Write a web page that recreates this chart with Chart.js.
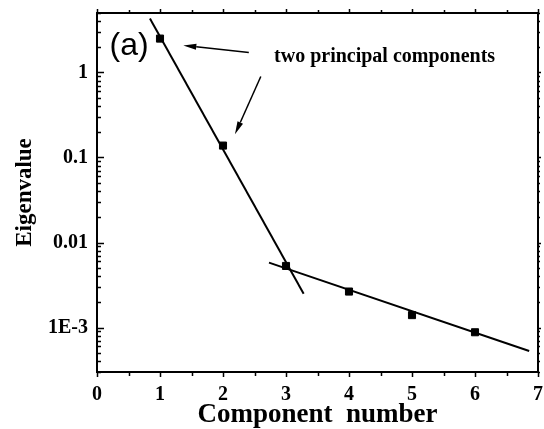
<!DOCTYPE html>
<html lang="en">
<head>
  <meta charset="UTF-8">
  <title>Eigenvalue vs component number</title>
  <script src="https://cdn.jsdelivr.net/npm/chart.js"></script>
  <style>
    html, body { margin: 0; padding: 0; background: #fff; }
    canvas { display: block; }
  </style>
</head>
<body>
  <canvas id="eigChart" width="544" height="429"></canvas>

  <script>
    // measured eigenvalues per component
    const components = [1, 2, 3, 4, 5, 6];
    const eigenvalues = [2.5, 0.138, 0.0053, 0.00265, 0.0014, 0.00088];

    // two straight fits (log scale), given by their end points
    const steepFitX = [0.84, 3.28];
    const steepFitY = [4.3, 0.0025];
    const tailFitX = [2.73, 6.86];
    const tailFitY = [0.0058, 0.00053];

    // axes
    const xMin = 0, xMax = 7;
    const yMin = 3e-4, yMax = 5;
    const xTickValues = [0, 1, 2, 3, 4, 5, 6, 7];
    const yTickValues = [1, 0.1, 0.01, 0.001];
    const yTickLabels = ['1', '0.1', '0.01', '1E-3'];

    // annotation: arrows [x0, y0, x1, y1] in data units, tip at the end
    const arrows = [
      [2.41, 1.72, 1.37, 2.08],
      [2.60, 0.897, 2.19, 0.187]
    ];
    const noteText = 'two principal components';
    const noteAt = [2.81, 1.54];
    const panelText = '(a)';
    const panelAt = [0.2, 2.02];

    const serif = '"Liberation Serif", "Times New Roman", serif';

    const toPts = (xs, ys) => xs.map((x, i) => ({ x: x, y: ys[i] }));

    // frame, ticks and the text annotations
    const decorPlugin = {
      id: 'decor',
      afterDraw(chart) {
        const { ctx, chartArea: a, scales } = chart;
        const sx = scales.x, sy = scales.y;
        ctx.save();
        ctx.strokeStyle = '#000';
        ctx.lineWidth = 2;
        ctx.strokeRect(a.left, a.top, a.right - a.left, a.bottom - a.top);

        ctx.lineWidth = 1.5;
        ctx.beginPath();
        for (let v = xMin; v <= xMax + 1e-9; v += 0.5) {
          const px = Math.round(sx.getPixelForValue(v)) + 0.5;
          const major = Number.isInteger(v);
          ctx.moveTo(px, a.bottom);
          ctx.lineTo(px, a.bottom + (major ? 5 : 4));
          ctx.moveTo(px, a.top);
          ctx.lineTo(px, a.top - (major ? 4 : 3));
        }
        for (let d = -4; d <= 0; d++) {
          for (let m = 1; m <= 9; m++) {
            const v = m * Math.pow(10, d);
            if (v < yMin || v > yMax) continue;
            const py = Math.round(sy.getPixelForValue(v)) + 0.5;
            const major = m === 1;
            ctx.moveTo(a.left, py);
            ctx.lineTo(a.left + (major ? 7 : 4), py);
            ctx.moveTo(a.right, py);
            ctx.lineTo(a.right + (major ? 3 : 2), py);
          }
        }
        ctx.stroke();

        // arrows
        ctx.lineWidth = 1.5;
        ctx.fillStyle = '#000';
        arrows.forEach(([x0, y0, x1, y1]) => {
          const ax = sx.getPixelForValue(x0), ay = sy.getPixelForValue(y0);
          const bx = sx.getPixelForValue(x1), by = sy.getPixelForValue(y1);
          const ang = Math.atan2(by - ay, bx - ax);
          const len = 13, wid = 3;
          const cx = bx - len * Math.cos(ang), cy = by - len * Math.sin(ang);
          ctx.beginPath();
          ctx.moveTo(ax, ay);
          ctx.lineTo(cx, cy);
          ctx.stroke();
          ctx.beginPath();
          ctx.moveTo(bx, by);
          ctx.lineTo(cx + wid * Math.sin(ang), cy - wid * Math.cos(ang));
          ctx.lineTo(cx - wid * Math.sin(ang), cy + wid * Math.cos(ang));
          ctx.closePath();
          ctx.fill();
        });

        ctx.textBaseline = 'middle';
        ctx.textAlign = 'left';
        ctx.font = 'bold 20px ' + serif;
        ctx.fillText(noteText, sx.getPixelForValue(noteAt[0]), sy.getPixelForValue(noteAt[1]));
        ctx.font = '32px "Liberation Sans", Arial, sans-serif';
        ctx.fillText(panelText, sx.getPixelForValue(panelAt[0]), sy.getPixelForValue(panelAt[1]));
        ctx.restore();
      }
    };

    const fitStyle = {
      showLine: true,
      borderColor: '#000',
      borderWidth: 2,
      pointRadius: 0,
      fill: false
    };

    new Chart(document.getElementById('eigChart'), {
      type: 'scatter',
      data: {
        datasets: [
          Object.assign({ label: 'steep', data: toPts(steepFitX, steepFitY) }, fitStyle),
          Object.assign({ label: 'tail', data: toPts(tailFitX, tailFitY) }, fitStyle),
          {
            label: 'Eigenvalue',
            data: toPts(components, eigenvalues),
            pointStyle: 'rect',
            pointRadius: 5,
            borderWidth: 1,
            borderColor: '#000',
            backgroundColor: '#000'
          }
        ]
      },
      options: {
        responsive: false,
        animation: false,
        devicePixelRatio: 1,
        layout: { padding: { top: 13, right: 3, left: 0, bottom: 0 } },
        plugins: {
          legend: { display: false },
          tooltip: { enabled: false }
        },
        scales: {
          x: {
            type: 'linear',
            min: xMin,
            max: xMax,
            afterBuildTicks: s => { s.ticks = xTickValues.map(v => ({ value: v })); },
            afterFit: s => {
              s.height = 57;
              s.paddingLeft = 0;
              s.paddingRight = 0;
            },
            grid: { display: false, drawTicks: false },
            border: { display: false },
            ticks: {
              color: '#000',
              padding: 11,
              maxRotation: 0,
              font: { family: serif, size: 20, weight: 'bold' }
            },
            title: {
              display: true,
              text: 'Component  number',
              color: '#000',
              padding: { top: 0, bottom: 0 },
              font: { family: serif, size: 27, weight: 'bold', lineHeight: 1.05 }
            }
          },
          y: {
            type: 'logarithmic',
            min: yMin,
            max: yMax,
            afterBuildTicks: s => { s.ticks = yTickValues.map(v => ({ value: v })); },
            afterFit: s => {
              s.width = 97;
              s.paddingTop = 0;
              s.paddingBottom = 0;
            },
            grid: { display: false, drawTicks: false },
            border: { display: false },
            ticks: {
              color: '#000',
              padding: 9,
              font: { family: serif, size: 20, weight: 'bold' },
              callback: v => {
                const i = yTickValues.findIndex(t => Math.abs(t - v) < t * 1e-6);
                return i >= 0 ? yTickLabels[i] : '';
              }
            },
            title: {
              display: true,
              text: 'Eigenvalue',
              color: '#000',
              padding: { top: 11, bottom: 0 },
              font: { family: serif, size: 23, weight: 'bold', lineHeight: 1.2 }
            }
          }
        }
      },
      plugins: [decorPlugin]
    });
  </script>
</body>
</html>
